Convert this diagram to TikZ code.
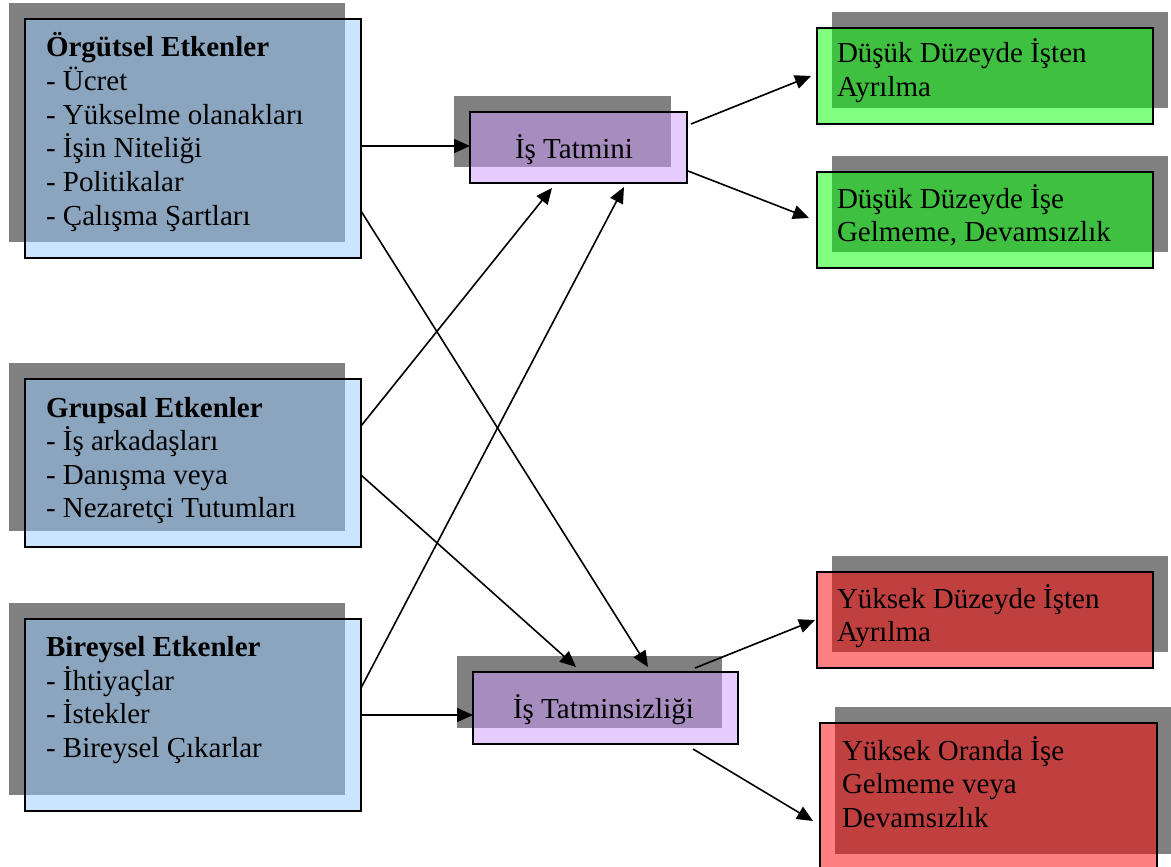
\documentclass[tikz,border=0pt]{standalone}
\usepackage{fontspec}
\setmainfont{Liberation Serif}
\usetikzlibrary{arrows.meta}
\definecolor{bluel}{RGB}{204,229,255}
\definecolor{blued}{RGB}{140,165,191}
\definecolor{purl}{RGB}{230,204,255}
\definecolor{purd}{RGB}{166,140,191}
\definecolor{grnl}{RGB}{128,255,128}
\definecolor{grnd}{RGB}{64,192,64}
\definecolor{redl}{RGB}{255,128,128}
\definecolor{redd}{RGB}{192,64,64}
\definecolor{shgray}{RGB}{128,128,128}
\tikzset{
  boxshape/.style={rectangle, inner sep=0pt, outer sep=0pt, draw=none},
  border/.style={line width=2pt, draw=black},
  txt/.style={anchor=base west, inner sep=0pt, outer sep=0pt, font=\fontsize{29}{34}\selectfont},
  arr/.style={-{Triangle[length=16pt,width=14pt]}, line width=1.6pt, black}
}
% #1 name, #2 x1, #3 y1, #4 x2, #5 y2, #6 shadow dx, #7 light, #8 dark
\newcommand\shbox[8]{%
  \fill[shgray] ({#2+(#6)},{#3-16}) rectangle ({#4+(#6)},{#5-16});
  \node[boxshape, fill=#7, minimum width={(#4-#2)*1pt}, minimum height={(#5-#3)*1pt}] (#1) at ({(#2+#4)/2},{(#3+#5)/2}) {};
  \fill[#8] ({max(#2,#2+(#6))},#3) rectangle ({min(#4,#4+(#6))},{#5-16});
  \draw[border] (#1.south west) rectangle (#1.north east);
}
% #1 name prefix, #2 x, #3 first baseline y, #4 lines
\newcommand\tlines[4]{%
  \foreach \t [count=\i] in {#4} {\node[txt] (#1-\i) at (#2, {#3+(\i-1)*33.6}) {\t};}
}
\begin{document}
\begin{tikzpicture}[x=1pt, y=-1pt]
\useasboundingbox (0,0) rectangle (1171,867);
\fill[white] (0,0) rectangle (1171,867);
% left boxes
\shbox{b1}{25}{19}{361}{258}{-16}{bluel}{blued}
\shbox{b2}{25}{379}{361}{547}{-16}{bluel}{blued}
\shbox{b3}{25}{619}{361}{811}{-16}{bluel}{blued}
% middle boxes
\shbox{t1}{470}{112}{687}{183}{-16}{purl}{purd}
\shbox{t2}{473}{672}{738}{744}{-16}{purl}{purd}
% right boxes
\shbox{g1}{817}{28}{1153}{124}{15}{grnl}{grnd}
\shbox{g2}{817}{172}{1153}{268}{15}{grnl}{grnd}
\shbox{r1}{817}{572}{1153}{668}{15}{redl}{redd}
\shbox{r2}{820}{723}{1157}{870}{15}{redl}{redd}
% texts
\tlines{b1t}{46}{57}{\textbf{Örgütsel Etkenler}, - Ücret, - Yükselme olanakları, - İşin Niteliği, - Politikalar, - Çalışma Şartları}
\tlines{b2t}{46}{417}{\textbf{Grupsal Etkenler}, - İş arkadaşları, - Danışma veya, - Nezaretçi Tutumları}
\tlines{b3t}{46}{656.5}{\textbf{Bireysel Etkenler}, - İhtiyaçlar, - İstekler, - Bireysel Çıkarlar}
\tlines{t1t}{515}{158}{İş Tatmini}
\tlines{t2t}{513}{718}{İş Tatminsizliği}
\tlines{g1t}{837}{63}{Düşük Düzeyde İşten, Ayrılma}
\tlines{g2t}{837}{208}{Düşük Düzeyde İşe, {Gelmeme, Devamsızlık}}
\tlines{r1t}{837}{608}{Yüksek Düzeyde İşten, Ayrılma}
\tlines{r2t}{842}{760}{Yüksek Oranda İşe, Gelmeme veya, Devamsızlık}
% connectors
\draw[arr] ([yshift=-7.5pt]b1.east) -- ([yshift=1.5pt]t1.west);
\draw[arr] ([yshift=-72.5pt]b1.east) -- ([xshift=42.5pt,yshift=5pt]t2.north);
\draw[arr] ([yshift=37pt]b2.east) -- ([xshift=-26.5pt,yshift=-5pt]t1.south);
\draw[arr] ([yshift=-12pt]b2.east) -- ([xshift=-29.5pt,yshift=5pt]t2.north);
\draw[arr] ([yshift=27pt]b3.east) -- ([xshift=45.5pt,yshift=-4pt]t1.south);
\draw[arr] (b3.east) -- ([yshift=-7pt]t2.west);
\draw[arr] ([xshift=4pt,yshift=23.5pt]t1.east) -- ([xshift=-6pt]g1.west);
\draw[arr] ([xshift=1pt,yshift=-23.5pt]t1.east) -- ([xshift=-8pt,yshift=2pt]g2.west);
\draw[arr] ([xshift=-43pt,yshift=4pt]t2.north east) -- ([xshift=-2pt]r1.west);
\draw[arr] ([xshift=-45pt,yshift=-5pt]t2.south east) -- ([xshift=-7pt,yshift=-24.5pt]r2.west);
\end{tikzpicture}
\end{document}
